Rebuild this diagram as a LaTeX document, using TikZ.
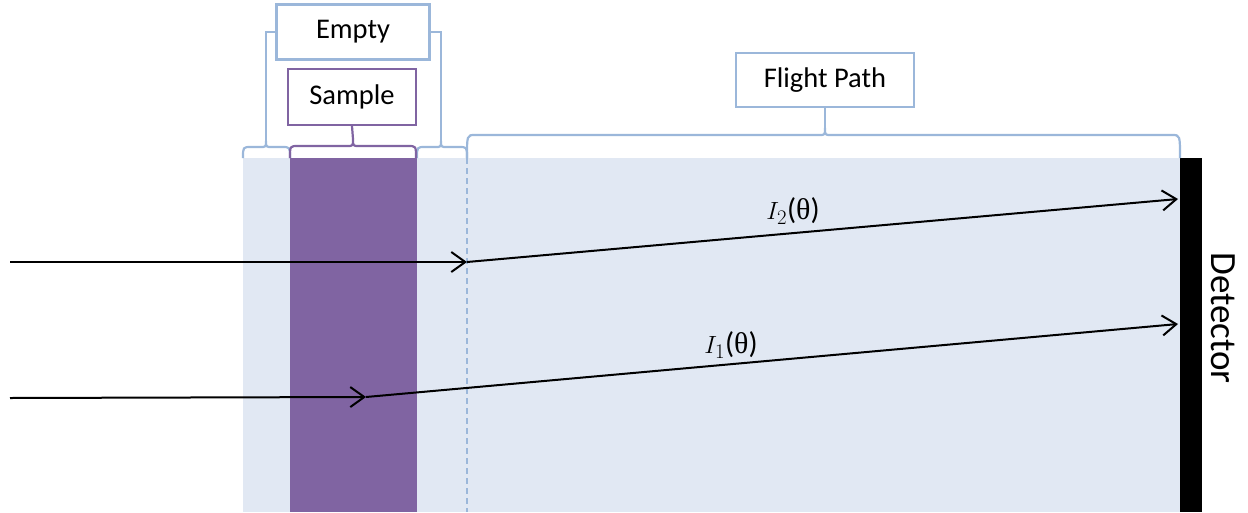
\documentclass[tikz,border=0pt]{standalone}
\usepackage{fontspec}
\setmainfont{Carlito}
\newfontfamily\grk{Liberation Serif}
\usetikzlibrary{arrows.meta}
\definecolor{bgblue}{HTML}{E1E8F3}
\definecolor{brblue}{HTML}{9BB7DA}
\definecolor{purp}{HTML}{8064A2}
\newcommand\hbrace[6]{\draw[#6, line width=2.2pt] (#1,158) .. controls (#1,#3) .. (#1+8,#3) -- (#4-6,#3) .. controls (#4,#3) .. (#4,#5) .. controls (#4,#3) .. (#4+6,#3) -- (#2-8,#3) .. controls (#2,#3) .. (#2,158);}
\begin{document}
\begin{tikzpicture}[x=1pt,y=-1pt,
  lbl/.style={draw=brblue, line width=2.2pt, fill=white, font=\fontsize{28.5}{32}\selectfont, inner sep=0pt},
  conn/.style={draw=brblue, line width=2.2pt},
  ray/.style={line width=2pt, -{Straight Barb[length=14pt,width=20pt,line width=2pt]}},
  mlbl/.style={font=\fontsize{30}{34}\selectfont, inner sep=0pt}]
\useasboundingbox (0,0) rectangle (1248,512);
\fill[bgblue] (243,158) rectangle (1180,512);
\fill[purp] (290,158) rectangle (417,512);
\fill[black] (1180,158) rectangle (1202,512);
\draw[brblue, line width=1.8pt, dash pattern=on 6pt off 4pt] (467,158) -- (467,512);
% braces
\hbrace{243}{290}{147}{266}{141}{brblue}
\hbrace{417}{467}{147}{441}{141}{brblue}
\hbrace{290}{416}{146}{353}{139}{purp}
\hbrace{467}{1180}{135}{825}{128}{brblue}
% boxes
\node[lbl, minimum width=153pt, minimum height=55pt] (empty) at (353,32) {Empty};
\node[lbl, draw=purp, minimum width=128pt, minimum height=56pt] (sample) at (352,97) {Sample};
\node[lbl, minimum width=178pt, minimum height=54pt] (flight) at (825,80) {Flight Path};
\coordinate (le) at (266,141);
\coordinate (re) at (441,141);
\coordinate (st) at (353,139);
\coordinate (ft) at (825,128);
\draw[conn] (empty.west) -| (le);
\draw[conn] (empty.east) -| (re);
\draw[draw=purp, line width=2.2pt] (sample.south) -- (st);
\draw[conn] (flight.south) -- (ft);
% rays
\coordinate (a1) at (10,262);
\coordinate (h1) at (467,262);
\coordinate (d1) at (1178,199);
\coordinate (a2) at (10,398);
\coordinate (h2) at (366,397);
\coordinate (d2) at (1178,324);
\draw[ray] (a1) -- (h1);
\draw[ray] (h1) -- (d1);
\draw[ray] (a2) -- (h2);
\draw[ray] (h2) -- (d2);
\node[mlbl] (l2) at (793,211) {$I_2$({\grk θ})};
\node[mlbl] (l1) at (731,345) {$I_1$({\grk θ})};
\node[rotate=-90, font=\fontsize{37}{42}\selectfont, inner sep=0pt] (det) at (1223,318) {Detector};
\end{tikzpicture}
\end{document}
